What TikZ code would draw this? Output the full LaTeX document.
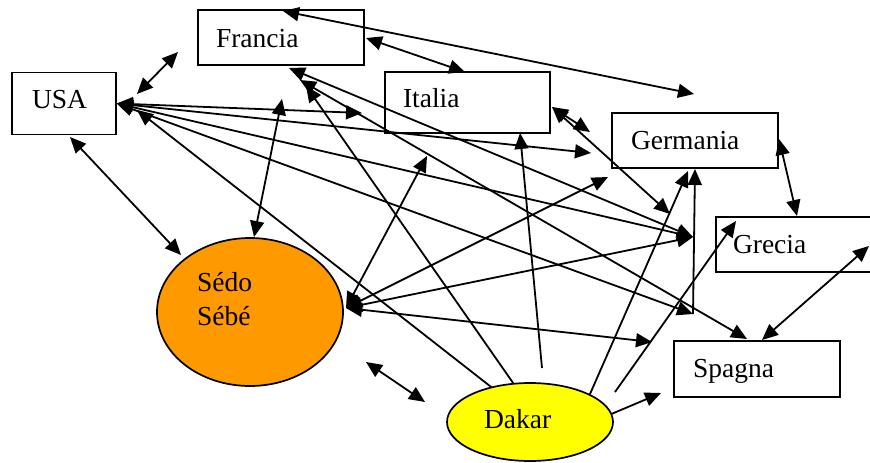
\documentclass[tikz,border=0pt]{standalone}
\usepackage{fontspec}
\setmainfont{Liberation Serif}
\usetikzlibrary{arrows.meta,shapes.geometric,backgrounds}
\definecolor{sedoOrange}{HTML}{FF9900}
\definecolor{dakarYellow}{HTML}{FFFF00}

\begin{document}
\begin{tikzpicture}[x=1pt,y=-1pt,
  every node/.style={font=\fontsize{27.5}{34}\selectfont},
  box/.style={draw, line width=1.7pt, rectangle, inner ysep=0pt, align=left, text height=19pt},
  oval/.style={draw, line width=1.7pt, ellipse, inner sep=0pt, align=left, text height=19pt},
  link/.style={line width=1.8pt, {Triangle[length=16pt,width=14pt]}-{Triangle[length=16pt,width=14pt]}},
  feed/.style={line width=1.8pt, -{Triangle[length=16pt,width=14pt]}},
]
\useasboundingbox (0,0) rectangle (870,463);
\clip (0,0) rectangle (870,463);

% countries
\node[box, minimum width=166pt, minimum height=55pt, inner xsep=18pt, text width=130pt, text depth=0pt] (francia) at (281,37.5) {Francia};
\node[box, minimum width=104pt, minimum height=62pt, inner xsep=20pt, text width=64pt, text depth=10pt] (usa) at (64,103.5) {USA};
\node[box, minimum width=165pt, minimum height=61pt, inner xsep=18pt, text width=129pt, text depth=10pt] (italia) at (467.5,102.5) {Italia};
\node[box, minimum width=166pt, minimum height=55pt, inner xsep=19pt, text width=128pt, text depth=2pt] (germania) at (695,140.5) {Germania};
\node[box, minimum width=160pt, minimum height=55pt, inner xsep=17pt, text width=126pt, text depth=2pt] (grecia) at (796,244.5) {Grecia};
\node[box, minimum width=166pt, minimum height=56pt, inner xsep=19pt, text width=128pt, text depth=3pt] (spagna) at (757,369) {Spagna};
\node[oval, fill=sedoOrange, minimum width=186pt, minimum height=148pt, text width=106pt, text depth=61pt] (sedo) at (250,312) {Sédo\\Sébé};
\node[oval, fill=dakarYellow, minimum width=166pt, minimum height=78pt, text width=92pt, text depth=7pt] (dakar) at (530,422) {Dakar};

% attachment points on and around the shapes
\coordinate (fraTop) at (283,11);
\coordinate (fraRt) at (366,38);
\coordinate (fraBtA) at (289,68);
\coordinate (fraBtB) at (300,80);
\coordinate (fraBtC) at (306,86);
\coordinate (farTip) at (694,94);
\coordinate (itaTop) at (465,72);
\coordinate (usaRt2) at (137,110);
\coordinate (usaBt) at (70,137);
\coordinate (usaFa) at (137,94);
\coordinate (faUs) at (178,52);
\coordinate (itaLeftTip) at (362,113);
\coordinate (gerLeftTip) at (591,153);
\coordinate (greLeftTip) at (693,237);
\coordinate (hub) at (693,314);
\coordinate (sedoTop) at (254,237);
\coordinate (sedoTopTip) at (282,99);
\coordinate (sedoNW) at (181,255);
\coordinate (sedoRt) at (346,308);
\coordinate (itaLowTip) at (427,156);
\coordinate (gerLowTip) at (608,177);
\coordinate (spaLeftTip) at (652,342);
\coordinate (itaRt) at (552,107);
\coordinate (itaRtA) at (590,132);
\coordinate (itaRtB) at (670,214);
\coordinate (gerRt) at (779,139);
\coordinate (greTop) at (797,216);
\coordinate (greRt) at (869,246);
\coordinate (spaTop) at (762,340);
\coordinate (spaTop2) at (747,339);
\coordinate (gerBt) at (695,169);
\coordinate (gerBt2) at (688,171);
\coordinate (itaBt) at (520,133);
\coordinate (greIn) at (736,221);
\coordinate (dkUsa) at (495,390);
\coordinate (dkFra) at (518,390);
\coordinate (dkIta) at (542,368);
\coordinate (dkGer) at (590,394);
\coordinate (dkGre) at (615,392);
\coordinate (dkRt) at (609,415);
\coordinate (dkRtTip) at (661,393);
\coordinate (sdA) at (366,362);
\coordinate (sdB) at (425,402);

\begin{scope}[on background layer]
  % Francia
  \draw[link] (usaFa) -- (faUs);
  \draw[link] (fraTop) -- (farTip);
  \draw[link] (fraRt) -- (itaTop);
  \draw[link] (fraBtA) -- (greLeftTip);
  \draw[link] (fraBtB) -- (spaTop2);
  % USA
  \draw[link] (usa.east) -- (itaLeftTip);
  \draw[link] (usa.east) -- (gerLeftTip);
  \draw[link] (usa.east) -- (greLeftTip);
  \draw[link] (usa.east) -- (hub);
  \draw[link] (usaBt) -- (sedoNW);
  % Sedo Sebe
  \draw[link] (sedoTop) -- (sedoTopTip);
  \draw[link] (sedoRt) -- (itaLowTip);
  \draw[link] (sedoRt) -- (gerLowTip);
  \draw[link] (sedoRt) -- (greLeftTip);
  \draw[link] (sedoRt) -- (spaLeftTip);
  \draw[link] (sdA) -- (sdB);
  % Italia, Germania, Grecia
  \draw[link] (itaRt) -- (itaRtA);
  \draw[link] (itaRt) -- (itaRtB);
  \draw[link] (gerRt) -- (greTop);
  \draw[link] (greRt) -- (spaTop);
  \draw[feed] (hub) -- (gerBt);
  % Dakar
  \draw[feed] (dkUsa) -- (usaRt2);
  \draw[feed] (dkFra) -- (fraBtC);
  \draw[feed] (dkIta) -- (itaBt);
  \draw[feed] (dkGer) -- (gerBt2);
  \draw[feed] (dkGre) -- (greIn);
  \draw[feed] (dkRt) -- (dkRtTip);
\end{scope}
\end{tikzpicture}
\end{document}
